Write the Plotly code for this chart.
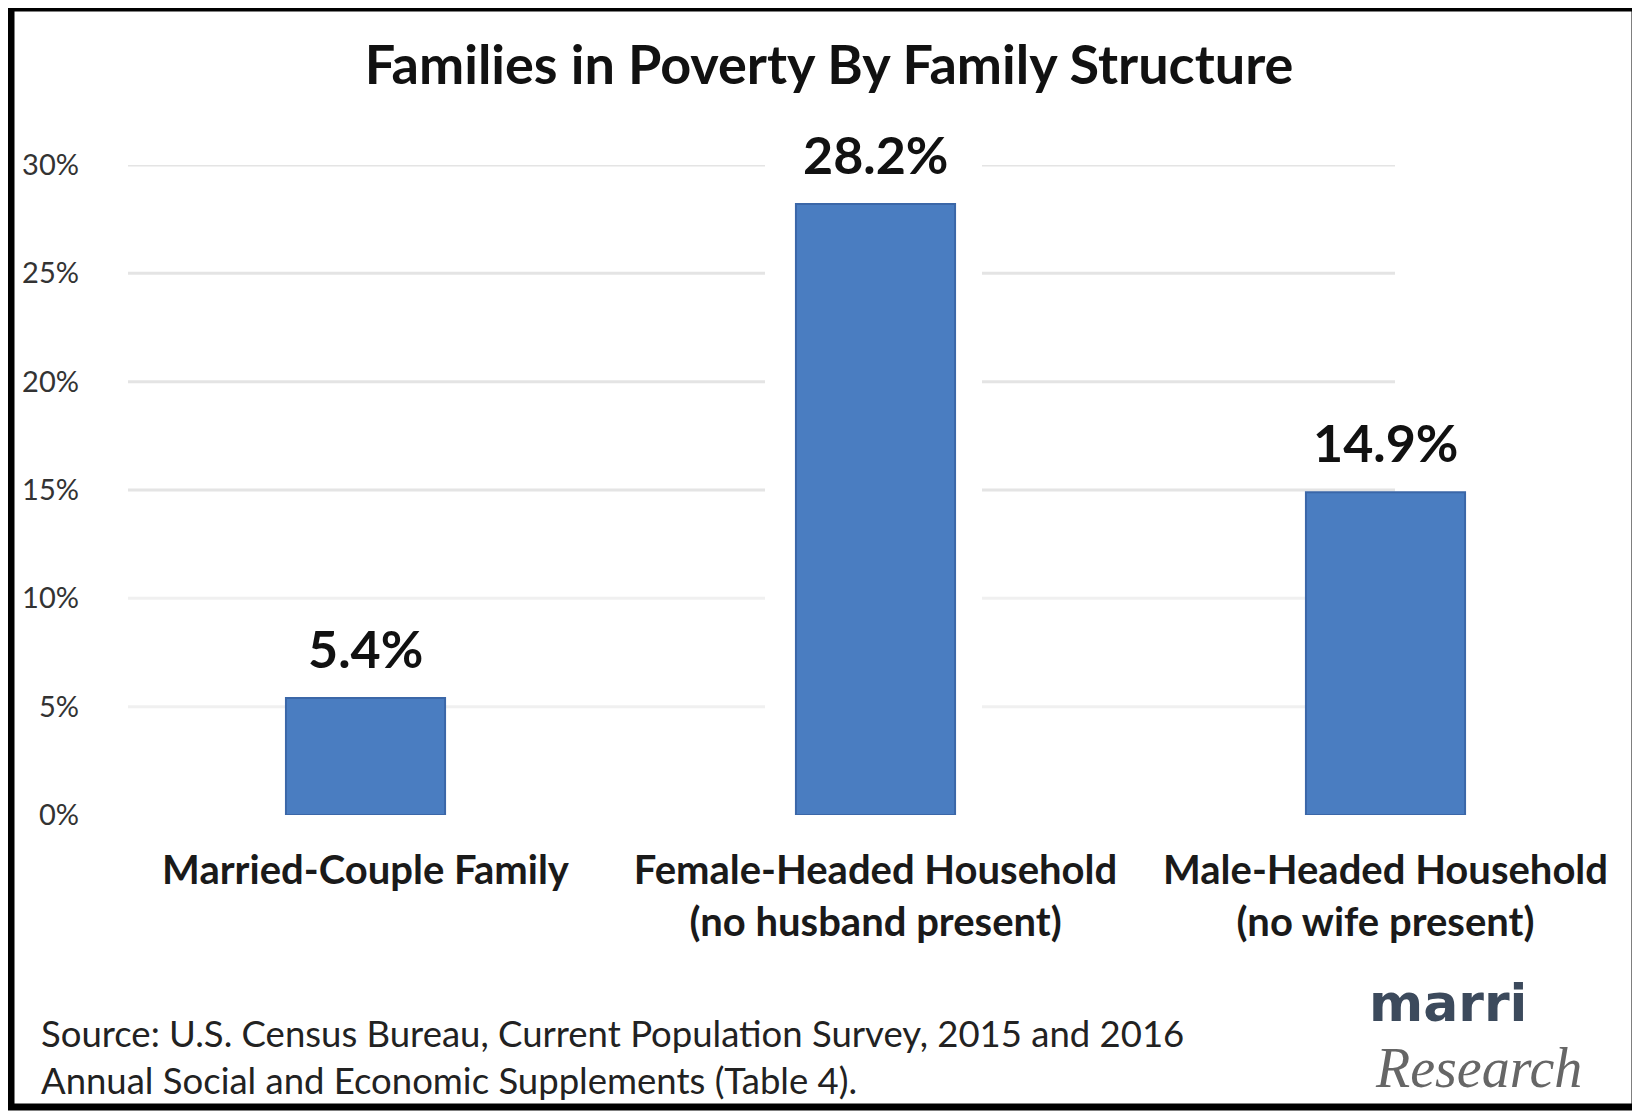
import plotly.graph_objects as go

categories = ["Married-Couple Family", "Female-Headed Household", "Male-Headed Household"]
category_labels = ["Married-Couple Family",
                   "Female-Headed Household<br>(no husband present)",
                   "Male-Headed Household<br>(no wife present)"]
poverty_rate = [5.4, 28.2, 14.9]
value_labels = ["5.4%", "28.2%", "14.9%"]
y_ticks = [0, 5, 10, 15, 20, 25, 30]
y_tick_labels = ["0%", "5%", "10%", "15%", "20%", "25%", "30%"]

title = "Families in Poverty By Family Structure"
source_lines = ["Source: U.S. Census Bureau, Current Population Survey, 2015 and 2016",
                "Annual Social and Economic Supplements (Table 4)."]

FONT = "Lato"
OFF = 8  # page body margin offset

def px(x):
    return (x - 110) / 1490

def py(y):
    return (815 - y) / 650

fig = go.Figure()
fig.add_trace(go.Bar(
    x=categories, y=poverty_rate, width=0.312,
    marker=dict(color="#4a7dc1", line=dict(color="#3b67a8", width=2)),
    hoverinfo="skip", showlegend=False,
))

for c, v, t in zip(categories, poverty_rate, value_labels):
    fig.add_annotation(x=c, y=v, text=t, showarrow=False, yanchor="bottom", yshift=17,
                       font=dict(family=FONT, size=52, color="#111111", weight="bold"))

shapes = []
for t in y_ticks[1:]:
    col = "#e4e4e4" if t >= 15 else "#f0f0f0"
    for x0, x1 in [(px(128), px(765)), (px(982), px(1395))]:
        shapes.append(dict(type="line", xref="paper", yref="y", x0=x0, x1=x1, y0=t, y1=t,
                           line=dict(color=col, width=3), layer="below"))
shapes.append(dict(type="rect", xref="paper", yref="paper", x0=px(11), x1=px(1635),
                   y0=py(1107), y1=py(8), line=dict(color="#000000", width=7)))
fig.update_layout(shapes=shapes)

fig.update_layout(
    width=1640, height=1115,
    margin=dict(l=110 - OFF, r=40 + OFF, t=165 - OFF, b=300 + OFF),
    paper_bgcolor="white", plot_bgcolor="white",
    title=dict(text=title, x=px(829), xref="paper", xanchor="center",
               y=1 - (65 - OFF) / 1115, yref="container", yanchor="middle",
               font=dict(family=FONT, size=54, color="#111111", weight="bold")),
    xaxis=dict(range=[-0.501, 2.4206], tickmode="array", tickvals=categories,
               ticktext=category_labels, showgrid=False, zeroline=False, showline=False,
               ticks="", ticklabelstandoff=28,
               tickfont=dict(family=FONT, size=40, color="#1a1a1a", weight="bold")),
    yaxis=dict(range=[0, 30], tickmode="array", tickvals=y_ticks, ticktext=y_tick_labels,
               showgrid=False, zeroline=False, showline=False, ticks="",
               ticklabelstandoff=30,
               tickfont=dict(family=FONT, size=29, color="#333333")),
    bargap=0.69,
)

for i, line in enumerate(source_lines):
    fig.add_annotation(xref="paper", yref="paper", x=px(39), y=py([1033, 1080][i]),
                       xanchor="left", yanchor="middle", text=line, showarrow=False,
                       font=dict(family=FONT, size=36.5, color="#222222"))

fig.add_annotation(xref="paper", yref="paper", x=px(1448), y=py(1003),
                   xanchor="center", yanchor="middle", text="marri", showarrow=False,
                   borderpad=0,
                   font=dict(family="DejaVu Sans", size=52, color="#3c4a5c", weight="bold"))
fig.add_annotation(xref="paper", yref="paper", x=px(1478), y=py(1068),
                   xanchor="center", yanchor="middle", text="Research", showarrow=False,
                   borderpad=0,
                   font=dict(family="Liberation Serif", size=56, color="#666666", style="italic"))

fig.write_html("out.html")
